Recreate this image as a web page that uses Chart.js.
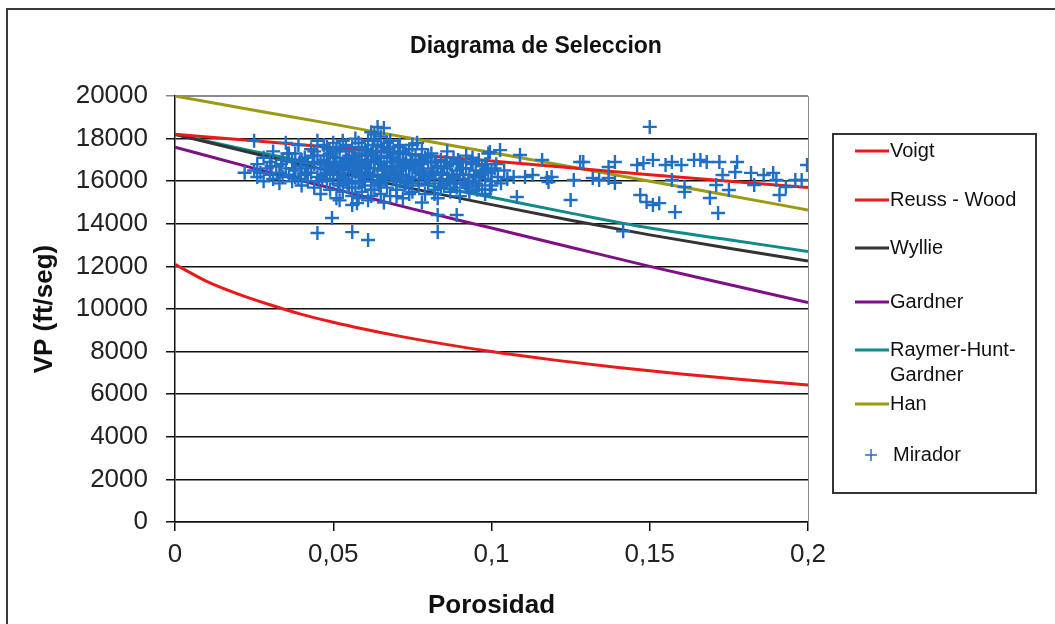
<!DOCTYPE html>
<html lang="es">
  <head>
    <meta charset="UTF-8" />
    <title>Diagrama de Seleccion</title>
    <script src="https://cdn.jsdelivr.net/npm/chart.js@4.4.0/dist/chart.umd.min.js"></script>
    <style>
      body { margin: 0; background: #fff; }
    </style>
  </head>
  <body>
    <canvas id="chart" width="1055" height="624"></canvas>
  <script>
// ---- datos ----
const titulo = 'Diagrama de Seleccion';
const tituloX = 'Porosidad';
const tituloY = 'VP (ft/seg)';

// porosidad para las curvas teoricas
const porLineas = [0, 0.025, 0.05, 0.075, 0.1, 0.125, 0.15, 0.175, 0.2];
const voigt   = [18200, 17900, 17580, 17250, 16950, 16630, 16300, 16000, 15700];
const wyllie  = [18200, 17300, 16450, 15650, 14900, 14170, 13480, 12850, 12250];
const gardner = [17600, 16600, 15650, 14700, 13800, 12900, 12000, 11150, 10300];
const raymer  = [18200, 17400, 16650, 15950, 15250, 14500, 13800, 13250, 12700];
const han     = [20000, 19330, 18680, 18000, 17350, 16680, 16000, 15330, 14650];

const porReuss  = [0, 0.01, 0.02, 0.03, 0.04, 0.05, 0.06, 0.07, 0.08, 0.1, 0.12, 0.14, 0.16, 0.18, 0.2];
const reussWood = [12100, 11300, 10700, 10200, 9750, 9380, 9050, 8750, 8480, 8000, 7600, 7250, 6950, 6680, 6430];

// pozo Mirador
const porMirador = [
  0.025,0.025,0.026,0.026,0.027,0.028,0.028,0.029,0.030,0.030,0.031,0.031,0.032,0.033,0.033,0.034,0.034,0.035,0.035,0.036,
  0.037,0.037,0.038,0.038,0.039,0.039,0.040,0.040,0.041,0.041,0.042,0.042,0.043,0.043,0.044,0.044,0.045,0.045,0.045,0.046,
  0.046,0.047,0.047,0.048,0.048,0.048,0.049,0.049,0.050,0.050,0.050,0.051,0.051,0.051,0.052,0.052,0.052,0.053,0.053,0.053,0.054,0.054,0.054,0.055,0.055,0.055,
  0.056,0.056,0.056,0.057,0.057,0.057,0.058,0.058,0.058,0.059,0.059,0.059,0.060,0.060,0.060,0.061,0.061,0.061,0.062,0.062,0.062,0.063,0.063,0.063,0.064,0.064,0.064,0.065,0.065,0.065,0.065,
  0.066,0.066,0.067,0.067,0.067,0.068,0.068,0.068,0.069,0.069,0.070,0.070,0.070,0.071,0.071,0.072,0.072,0.072,0.073,0.073,0.074,0.074,0.075,0.075,0.075,
  0.076,0.077,0.077,0.078,0.078,0.079,0.079,0.080,0.080,0.081,0.081,0.082,0.082,0.083,0.083,0.084,0.084,0.085,0.085,0.086,0.086,0.087,0.087,0.088,0.088,0.089,0.089,0.090,0.090,
  0.091,0.091,0.092,0.092,0.093,0.093,0.094,0.094,0.095,0.095,0.096,0.096,0.097,0.097,0.098,0.098,0.099,0.099,0.100,0.100,0.101,0.102,0.103,0.104,0.105,
  0.036,0.038,0.040,0.042,0.044,0.046,0.047,0.049,0.050,0.052,0.053,0.055,0.056,0.057,0.058,0.059,0.060,0.061,0.062,0.063,0.064,0.065,
  0.066,0.067,0.068,0.069,0.070,0.071,0.072,0.073,0.074,0.076,0.078,0.080,0.082,0.084,0.086,0.088,0.090,0.092,0.094,0.096,0.098,0.100,
  0.0375,0.0395,0.0415,0.0435,0.0455,0.0475,0.0485,0.0505,0.0515,0.0535,0.0545,0.0565,0.0575,0.0585,0.0595,0.0605,0.0615,0.0625,0.0635,0.0645,0.0655,0.0665,
  0.0675,0.0685,0.0695,0.0705,0.0715,0.0725,0.0735,0.0745,0.0755,0.0775,0.0795,0.0815,0.0835,0.0855,0.0875,0.0895,0.0915,0.0935,0.0955,0.0975,0.0995,0.1015,
  0.048,0.051,0.054,0.057,0.059,0.061,0.063,0.065,0.067,0.069,0.071,0.073,0.075,0.077,0.079,0.081,0.052,0.058,0.062,0.066,0.070,0.074,0.078,0.082,
  0.0465,0.0485,0.0505,0.0525,0.0545,0.0565,0.0585,0.0605,0.0625,0.0645,0.0665,0.0685,0.0705,0.0725,0.0745,
  0.0765,0.0785,0.0805,0.0825,0.0845,0.0865,0.0885,0.0905,0.0925,0.0945,0.0965,0.0985,0.0335,0.0355,0.0305,
  0.0496,0.045,0.056,0.061,0.056,0.0575,0.083,0.083,0.089,0.064,0.066,0.062,0.022,
  0.0995,0.1027,0.107,0.108,0.109,0.1106,0.113,0.116,0.1175,0.118,0.119,0.125,0.126,0.128,0.129,0.132,0.134,0.137,0.137,0.139,
  0.139,0.1416,0.146,0.147,0.148,0.149,0.150,0.151,0.151,0.153,0.155,0.157,0.157,0.158,0.160,0.161,0.161,0.164,0.166,0.168,
  0.169,0.171,0.1716,0.172,0.173,0.175,0.177,0.1776,0.182,0.183,0.186,0.189,0.190,0.191,0.193,0.196,0.198,0.1997
];
const vpMirador = [
  17900,16500,16200,16800,16400,16000,17100,16600,16300,16900,16100,17400,16700,16400,15900,17000,16200,16600,17800,16300,
  16900,16000,17300,16500,16100,17700,16700,15800,16300,17100,16000,16900,17500,16400,15700,16800,17200,16200,17900,16600,
  15400,17000,16300,17600,16000,16800,15600,17300,16500,17800,16100,15200,16900,17500,16300,15800,17100,16600,17900,15500,16900,16100,17400,15700,16700,17200,
  16000,17600,15300,16800,17200,16400,15900,17800,16600,15500,17000,16200,17500,16800,15800,16400,17900,15100,16900,17300,16000,18200,16600,15600,17100,16300,17700,15900,16800,17400,15400,
  16200,17600,16900,15700,17200,16400,17900,15300,16700,17400,16000,17000,15600,16500,17700,16200,16900,15200,17300,15900,16600,17500,16100,15500,16900,
  17200,16400,15800,16800,17500,15400,16200,16900,15900,16500,17300,15600,16100,16700,15200,17000,16300,15800,16600,17400,16000,15500,16800,16200,17100,15700,16500,16900,15300,
  16100,16600,15800,17200,16300,15500,16800,16000,15900,16500,17000,16200,15600,16700,16100,15400,16400,17300,16000,15800,16600,16200,15900,16500,16100,
  17300,16200,17000,16600,17400,16900,17700,16400,17100,17600,16200,16000,16600,15700,17300,16700,16300,16900,15600,17000,16000,17100,
  16700,16300,17100,16100,16700,16000,17400,16600,16200,16500,16300,17200,16900,15700,16700,15900,16300,16600,17100,15800,16800,16500,
  16600,16900,16400,17200,16000,16300,16600,16900,15900,16400,17000,16500,16900,16300,16000,17200,16600,16200,17400,15800,16500,16100,
  17500,16900,16400,17300,16300,16800,16000,17000,16700,17000,16100,16400,15900,16900,16300,17000,15900,16900,15600,16400,15600,16800,
  17200,17400,17700,18000,17600,17200,17900,18100,17800,17100,17300,17000,17700,17000,17100,16900,15100,15200,15300,15000,15300,15400,15000,15400,
  16100,17500,16700,16800,15900,17100,16400,16600,17700,16900,16200,16600,17600,15800,16800,
  17800,16600,16200,16900,16400,16100,15900,16600,15700,16200,16300,16800,16800,17300,16700,
  14270,13570,13610,13240,14880,14970,14410,13610,14410,18550,18500,18300,16400,
  17370,17460,16200,15260,17230,16200,16290,17000,16150,15960,16200,15120,16060,16900,16900,16150,16060,16670,16150,16900,
  15920,13650,16760,15350,16850,15020,18550,17000,14880,14970,16760,16900,16060,14550,16760,15730,15500,17000,17000,16900,
  15210,15820,14510,16900,16290,15590,16430,16900,16390,15820,16290,16390,16060,15350,15730,16060,16060,16760
];

const xTicks = [0, 0.05, 0.1, 0.15, 0.2];
const leyenda = [
  { texto: ['Voigt'], color: '#e81a1a', tipo: 'linea' },
  { texto: ['Reuss - Wood'], color: '#e81a1a', tipo: 'linea' },
  { texto: ['Wyllie'], color: '#333333', tipo: 'linea' },
  { texto: ['Gardner'], color: '#7f0f86', tipo: 'linea' },
  { texto: ['Raymer-Hunt-', 'Gardner'], color: '#118a8a', tipo: 'linea' },
  { texto: ['Han'], color: '#9a9a14', tipo: 'linea' },
  { texto: ['Mirador'], color: '#1f6fc6', tipo: 'cruz' }
];

const fuente = "'Liberation Sans', Arial, sans-serif";

function pares(xs, ys) {
  return xs.map((x, i) => ({ x: x, y: ys[i] }));
}

function serie(label, xs, ys, color) {
  return {
    label: label,
    data: pares(xs, ys),
    showLine: true,
    borderColor: color,
    backgroundColor: color,
    borderWidth: 3,
    pointRadius: 0,
    cubicInterpolationMode: 'monotone'
  };
}

// marco exterior, borde del area, titulo y leyenda
const extras = {
  id: 'extras',
  beforeDraw(chart) {
    const ctx = chart.ctx;
    ctx.save();
    ctx.fillStyle = '#fff';
    ctx.fillRect(0, 0, chart.width, chart.height);
    ctx.strokeStyle = '#3a3a3a';
    ctx.lineWidth = 2;
    ctx.strokeRect(7, 9, 1200, 800);
    ctx.restore();
  },
  beforeDatasetsDraw(chart) {
    const a = chart.chartArea;
    const ctx = chart.ctx;
    ctx.save();
    ctx.strokeStyle = '#8a8a8a';
    ctx.lineWidth = 1;
    ctx.beginPath();
    ctx.moveTo(a.left, a.top + 0.5);
    ctx.lineTo(a.right + 0.5, a.top + 0.5);
    ctx.lineTo(a.right + 0.5, a.bottom);
    ctx.stroke();
    ctx.restore();
  },
  afterDraw(chart) {
    const ctx = chart.ctx;
    ctx.save();
    ctx.fillStyle = '#111';
    ctx.font = 'bold 23px ' + fuente;
    ctx.textAlign = 'center';
    ctx.textBaseline = 'middle';
    ctx.fillText(titulo, 536, 47);

    // leyenda
    ctx.strokeStyle = '#333';
    ctx.lineWidth = 2;
    ctx.strokeRect(833, 134, 203, 359);
    const ys = [151, 200, 248, 302, 350, 404, 455];
    ctx.font = '20px ' + fuente;
    ctx.textAlign = 'left';
    leyenda.forEach((it, i) => {
      const y = ys[i];
      if (it.tipo === 'linea') {
        ctx.strokeStyle = it.color;
        ctx.lineWidth = 3;
        ctx.beginPath();
        ctx.moveTo(855, y);
        ctx.lineTo(889, y);
        ctx.stroke();
      } else {
        ctx.strokeStyle = it.color;
        ctx.lineWidth = 1.5;
        ctx.beginPath();
        ctx.moveTo(865, y); ctx.lineTo(877, y);
        ctx.moveTo(871, y - 6); ctx.lineTo(871, y + 6);
        ctx.stroke();
      }
      ctx.fillStyle = '#111';
      it.texto.forEach((t, j) => {
        ctx.fillText(t, it.tipo === 'cruz' ? 893 : 890, y + j * 25);
      });
    });
    ctx.restore();
  }
};

const ctx = document.getElementById('chart').getContext('2d');
const myChart = new Chart(ctx, {
  type: 'scatter',
  data: {
    datasets: [
      {
        label: 'Mirador',
        data: pares(porMirador, vpMirador),
        pointStyle: 'cross',
        pointRadius: 7,
        pointBorderWidth: 2.4,
        borderColor: '#1f6fc6',
        backgroundColor: '#1f6fc6',
        showLine: false
      },
      serie('Voigt', porLineas, voigt, '#e81a1a'),
      serie('Reuss - Wood', porReuss, reussWood, '#e81a1a'),
      serie('Wyllie', porLineas, wyllie, '#333333'),
      serie('Gardner', porLineas, gardner, '#7f0f86'),
      serie('Raymer-Hunt-Gardner', porLineas, raymer, '#118a8a'),
      serie('Han', porLineas, han, '#9a9a14')
    ]
  },
  options: {
    responsive: false,
    animation: false,
    devicePixelRatio: 1,
    layout: { padding: { top: 96, right: 247, left: 0, bottom: 0 } },
    plugins: {
      legend: { display: false },
      tooltip: { enabled: false }
    },
    scales: {
      x: {
        type: 'linear',
        min: 0,
        max: 0.2,
        afterFit: (s) => { s.height = 102; },
        afterBuildTicks: (s) => { s.ticks = xTicks.map(v => ({ value: v })); },
        ticks: {
          padding: 8,
          color: '#222',
          font: { family: fuente, size: 26 },
          callback: (v) => String(v).replace('.', ',')
        },
        grid: { drawOnChartArea: false, drawTicks: true, tickLength: 9, color: '#111', lineWidth: 1.5 },
        border: { color: '#111', width: 1.5 },
        title: {
          display: true,
          text: tituloX,
          color: '#111',
          font: { family: fuente, size: 26, weight: 'bold' },
          padding: { top: 0, bottom: 3 }
        }
      },
      y: {
        min: 0,
        max: 20000,
        afterFit: (s) => { s.width = 175; },
        ticks: {
          stepSize: 2000,
          padding: 18,
          color: '#222',
          font: { family: fuente, size: 26 },
          callback: (v) => String(v)
        },
        grid: {
          drawTicks: true,
          tickLength: 9,
          lineWidth: 1.5,
          color: (c) => (c.tick && c.tick.value === 20000 ? '#8a8a8a' : '#111')
        },
        border: { color: '#111', width: 1.5 },
        title: {
          display: true,
          text: tituloY,
          color: '#111',
          font: { family: fuente, size: 26, weight: 'bold' },
          padding: { top: 29, bottom: 0 }
        }
      }
    }
  },
  plugins: [extras]
});
  </script>
  </body>
</html>
